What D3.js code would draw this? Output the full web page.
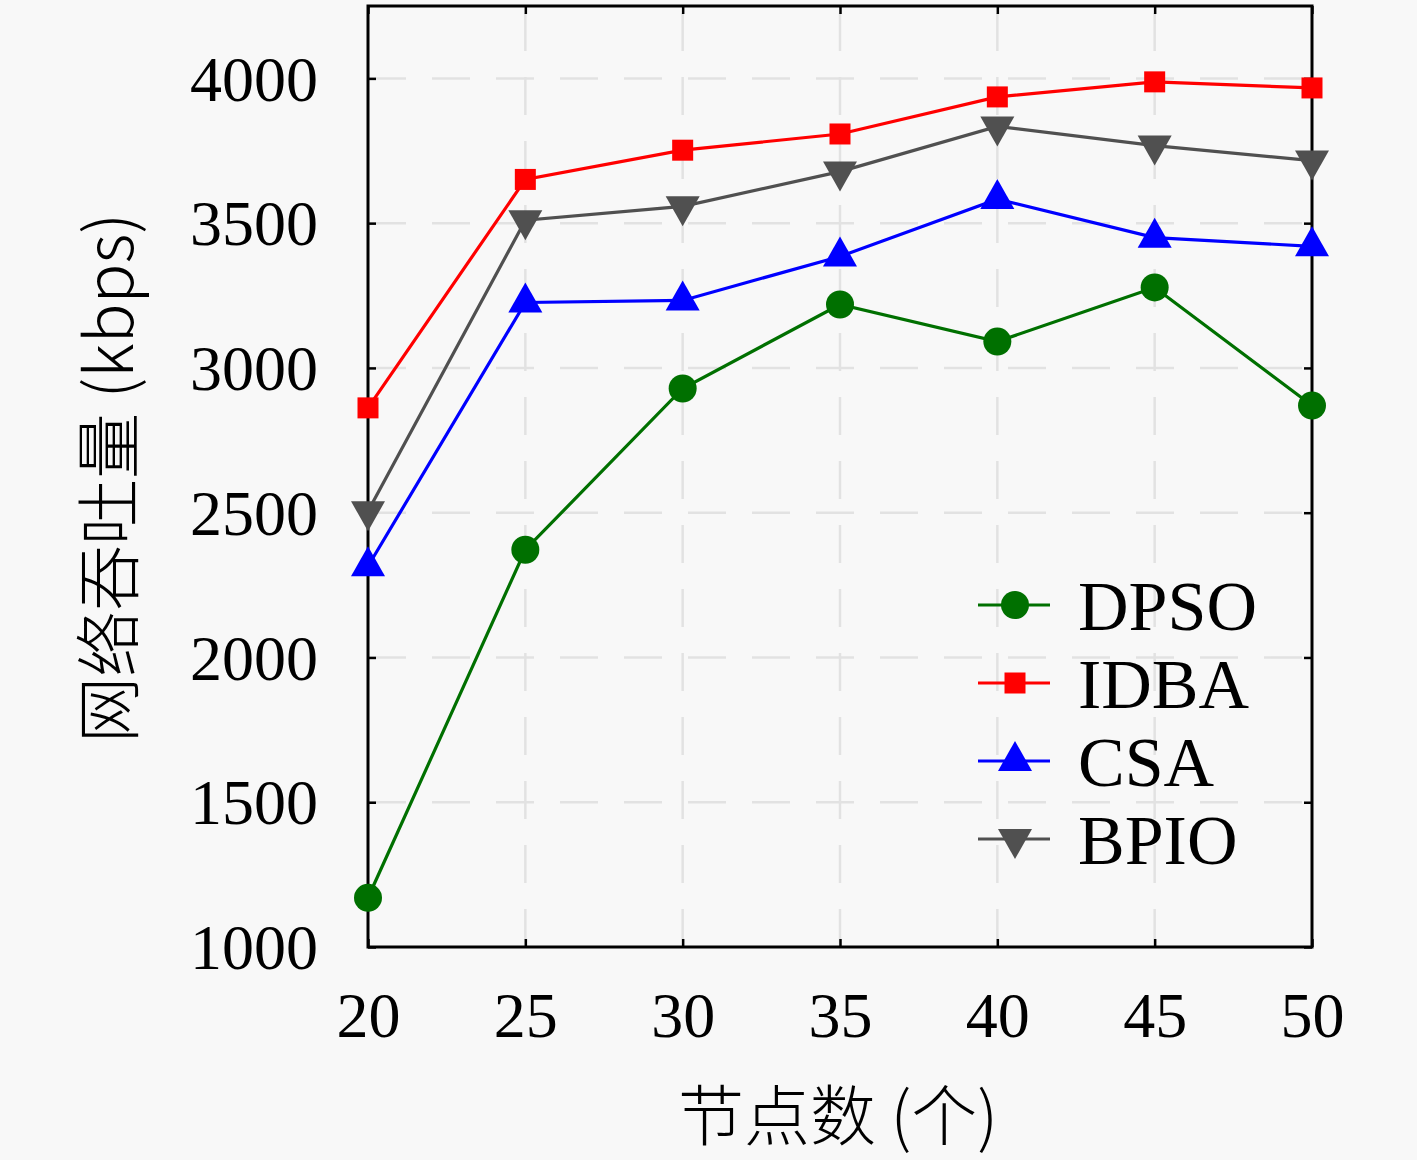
<!DOCTYPE html>
<html>
<head>
<meta charset="utf-8">
<script src="https://cdn.jsdelivr.net/npm/d3@7"></script>
<style>
  body { margin: 0; background: #f8f8f8; }
  svg { display: block; }
</style>
</head>
<body>
<div id="chart"></div>
<script>
// data
const nodes = [20, 25, 30, 35, 40, 45, 50];
const dpso = [1170, 2372, 2929, 3219, 3091, 3278, 2870];
const idba = [2862, 3651, 3752, 3808, 3936, 3988, 3967];
const csa  = [2315, 3226, 3233, 3385, 3583, 3450, 3420];
const bpio = [2505, 3510, 3558, 3678, 3834, 3768, 3716];
const yTicks = [1000, 1500, 2000, 2500, 3000, 3500, 4000];
const seriesNames = ["DPSO", "IDBA", "CSA", "BPIO"];
const seriesColors = ["#007000", "#ff0000", "#0000ff", "#505050"];
const seriesShapes = ["circle", "square", "triUp", "triDown"];

const series = [dpso, idba, csa, bpio].map((vals, i) => ({
    name: seriesNames[i],
    color: seriesColors[i],
    shape: seriesShapes[i],
    values: vals.map((v, j) => ({x: nodes[j], y: v}))
}));

const W = 1417, H = 1160;
const margin = {top: 6, right: 105, bottom: 213, left: 368};
const width = W - margin.left - margin.right;
const height = H - margin.top - margin.bottom;

const svg = d3.select("#chart").append("svg")
    .attr("width", W)
    .attr("height", H);

svg.append("rect").attr("width", W).attr("height", H).attr("fill", "#f8f8f8");

const g = svg.append("g")
    .attr("transform", "translate(" + margin.left + "," + margin.top + ")");

const x = d3.scaleLinear().domain([20, 50]).range([0, width]);
const y = d3.scaleLinear().domain([1000, 4250]).range([height, 0]);

// dashed grid
g.append("g").selectAll("line.gx")
    .data(nodes.slice(1, -1))
    .join("line")
    .attr("x1", d => x(d)).attr("x2", d => x(d))
    .attr("y1", height).attr("y2", 0)
    .attr("stroke", "#e2e2e2").attr("stroke-width", 2.5)
    .attr("stroke-dasharray", "38,26");

g.append("g").selectAll("line.gy")
    .data(yTicks.slice(1))
    .join("line")
    .attr("x1", 0).attr("x2", width)
    .attr("y1", d => y(d)).attr("y2", d => y(d))
    .attr("stroke", "#e2e2e2").attr("stroke-width", 2.5)
    .attr("stroke-dasharray", "38,26");

// axes with inward ticks
const tickFont = "'Liberation Serif', 'DejaVu Serif', serif";

const xAxis = g.append("g")
    .attr("transform", "translate(0," + height + ")")
    .call(d3.axisBottom(x).tickValues(nodes).tickSize(-8).tickPadding(45).tickFormat(d3.format("d")));
const yAxis = g.append("g")
    .call(d3.axisLeft(y).tickValues(yTicks).tickSize(-8).tickPadding(50).tickFormat(d3.format("d")));
const xTop = g.append("g")
    .call(d3.axisTop(x).tickValues(nodes).tickSize(-8).tickFormat(""));
const yRight = g.append("g")
    .attr("transform", "translate(" + width + ",0)")
    .call(d3.axisRight(y).tickValues(yTicks).tickSize(-8).tickFormat(""));

[xAxis, yAxis, xTop, yRight].forEach(a => {
    a.select(".domain").remove();
    a.selectAll(".tick line").attr("stroke", "#000").attr("stroke-width", 2.5);
    a.selectAll("text")
        .attr("fill", "#000")
        .style("font-family", tickFont)
        .style("font-size", "64px");
});
xAxis.selectAll("text").attr("dy", "0.71em");
yAxis.selectAll("text").attr("dy", "0.34em");

// frame
g.append("rect")
    .attr("width", width).attr("height", height)
    .attr("fill", "none").attr("stroke", "#000").attr("stroke-width", 3);

// marker helper
function drawMarker(sel, shape, color) {
    if (shape === "circle") {
        sel.append("circle").attr("r", 14).attr("fill", color);
    } else if (shape === "square") {
        sel.append("rect").attr("x", -10.5).attr("y", -10.5).attr("width", 21).attr("height", 21).attr("fill", color);
    } else if (shape === "triUp") {
        sel.append("path").attr("d", "M0,-20 L17,10 L-17,10 Z").attr("fill", color);
    } else {
        sel.append("path").attr("d", "M0,20 L17,-10 L-17,-10 Z").attr("fill", color);
    }
}

const line = d3.line().x(d => x(d.x)).y(d => y(d.y));

series.forEach(s => {
    g.append("path")
        .datum(s.values)
        .attr("fill", "none")
        .attr("stroke", s.color)
        .attr("stroke-width", 3.2)
        .attr("d", line);
    g.append("g").selectAll("g")
        .data(s.values)
        .join("g")
        .attr("transform", d => "translate(" + x(d.x) + "," + y(d.y) + ")")
        .each(function() { drawMarker(d3.select(this), s.shape, s.color); });
});

// legend
const legend = g.append("g").attr("transform", "translate(" + (978 - margin.left) + "," + (605 - margin.top) + ")");
series.forEach((s, i) => {
    const row = legend.append("g").attr("transform", "translate(0," + (i * 78) + ")");
    row.append("line").attr("x1", 0).attr("x2", 72).attr("y1", 0).attr("y2", 0)
        .attr("stroke", s.color).attr("stroke-width", 3.2);
    const m = row.append("g").attr("transform", "translate(37,0)");
    drawMarker(m, s.shape, s.color);
    row.append("text")
        .attr("x", 100).attr("y", 0).attr("dy", "0.35em")
        .style("font-family", tickFont)
        .style("font-size", "70px")
        .attr("fill", "#000")
        .text(s.name);
});

// axis titles
svg.append("text")
    .attr("x", 838)
    .attr("y", 1140)
    .attr("text-anchor", "middle")
    .attr("fill", "#000")
    .style("font-family", "'Noto Sans CJK SC', sans-serif")
    .style("font-weight", 300)
    .style("font-size", "66px")
    .text("节点数 (个)");

svg.append("text")
    .attr("transform", "translate(133," + 478 + ") rotate(-90)")
    .attr("text-anchor", "middle")
    .attr("fill", "#000")
    .style("font-family", "'Noto Sans CJK SC', sans-serif")
    .style("font-weight", 300)
    .style("font-size", "66px")
    .text("网络吞吐量 (kbps)");
</script>
</body>
</html>
